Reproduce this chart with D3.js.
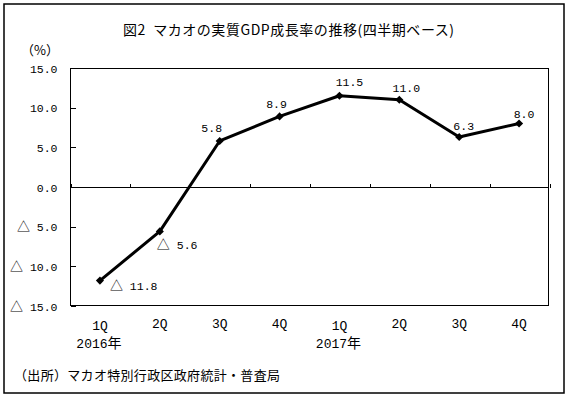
<!DOCTYPE html>
<html><head><meta charset="utf-8">
<script src="https://cdn.jsdelivr.net/npm/d3@7"></script>
<style>
html,body{margin:0;padding:0;background:#fff;}
svg{display:block;}
text{white-space:pre;}
</style></head>
<body>
<svg id="chart" width="568" height="397"></svg>
<script>
// ---- data ----
const quarters = ["1Q","2Q","3Q","4Q","1Q","2Q","3Q","4Q"];
const years = ["2016年","","","","2017年","","",""];
const growth = [-11.8, -5.6, 5.8, 8.9, 11.5, 11.0, 6.3, 8.0];
const yTicks = [15, 10, 5, 0, -5, -10, -15];
const title = "図2  マカオの実質GDP成長率の推移(四半期ベース)";
const unitLabel = "（%）";
const sourceNote = "（出所）マカオ特別行政区政府統計・普査局";

// ---- layout / style ----
const numFont = "'Liberation Mono', 'Noto Sans CJK JP', monospace";
const jpFont = "'Noto Sans CJK JP', sans-serif";
const labelOffsets = [[10,5.5],[-3,13.6],[-8,-13],[-3,-12.4],[10,-14],[7,-12],[4.5,-11],[5,-10]];

const svg = d3.select("#chart");
svg.append("rect").attr("x",0).attr("y",0).attr("width",568).attr("height",397).attr("fill","#fff");
// outer frame
svg.append("rect").attr("x",4).attr("y",4).attr("width",560).attr("height",389)
  .attr("fill","none").attr("stroke","#000").attr("stroke-width",1.5);

const plot = {left:70, right:549, top:68, bottom:306};
const x = d3.scaleBand().domain(d3.range(quarters.length)).range([plot.left, plot.right]);
const y = d3.scaleLinear().domain([-15, 15]).range([plot.bottom, plot.top]);

// title
svg.append("text").attr("x",123).attr("y",35)
  .attr("textLength",331).attr("lengthAdjust","spacing")
  .attr("font-family",jpFont).attr("font-size",14).attr("fill","#000").text(title);
// unit
svg.append("text").attr("x",21).attr("y",55)
  .attr("font-family",jpFont).attr("font-size",13).attr("fill","#000").text(unitLabel);

// plot frame
svg.append("rect").attr("x",plot.left+0.5).attr("y",plot.top+0.5)
  .attr("width",plot.right-plot.left-1).attr("height",plot.bottom-plot.top-1)
  .attr("fill","none").attr("stroke","#000").attr("stroke-width",1).attr("shape-rendering","crispEdges");

// y axis (ticks inside)
const yAxis = d3.axisLeft(y).tickValues(yTicks).tickSize(-5).tickPadding(13)
  .tickFormat(d => d < 0 ? "△ " + Math.abs(d).toFixed(1) : d.toFixed(1));
const gy = svg.append("g").attr("transform",`translate(${plot.left+0.5},0)`).call(yAxis);
gy.select(".domain").remove();
gy.selectAll(".tick line").attr("stroke","#000").attr("shape-rendering","crispEdges");
gy.selectAll(".tick text").each(function(d){
  const t = d3.select(this);
  t.text(null).attr("font-family",numFont).attr("font-size",11.5).attr("fill","#000").attr("dy","0.36em");
  if (d < 0) {
    t.append("tspan").attr("font-family",jpFont).attr("font-size",13).text("△");
    t.append("tspan").text(" " + Math.abs(d).toFixed(1));
  } else {
    t.text(d.toFixed(1));
  }
});

// zero axis with category-boundary ticks pointing up
const xBound = d3.scaleLinear().domain([0, quarters.length]).range([plot.left, plot.right]);
const xAxis = d3.axisTop(xBound).ticks(quarters.length).tickSize(4).tickFormat("");
const gx = svg.append("g").attr("transform",`translate(0,${Math.round(y(0))+0.5})`).call(xAxis);
gx.select(".domain").attr("d",`M${plot.left},0H${plot.right}`).attr("stroke","#000").attr("shape-rendering","crispEdges");
gx.selectAll(".tick line").attr("stroke","#000").attr("shape-rendering","crispEdges")
  .attr("transform","translate(0.5,0)");

// category labels
const cx = i => x(i) + x.bandwidth()/2;
svg.append("g").selectAll("text").data(quarters).join("text")
  .attr("x",(d,i)=>cx(i)).attr("y",(d,i)=> years[i] ? 330 : 328)
  .attr("text-anchor","middle").attr("font-family",numFont).attr("font-size",13).attr("fill","#000")
  .text(d=>d);
svg.append("g").selectAll("text").data(years).join("text")
  .attr("x",(d,i)=>cx(i)-1).attr("y",348)
  .attr("text-anchor","middle").attr("font-family",numFont).attr("font-size",13).attr("fill","#000")
  .each(function(d){
    if(!d) return;
    const t = d3.select(this);
    t.append("tspan").text(d.replace("年",""));
    t.append("tspan").attr("font-family",jpFont).attr("font-size",14).text("年");
  });

// line
const line = d3.line().x((d,i)=>cx(i)).y(d=>y(d));
svg.append("path").datum(growth).attr("d",line).attr("fill","none")
  .attr("stroke","#000").attr("stroke-width",3).attr("stroke-linejoin","round");
// markers
svg.append("g").selectAll("path").data(growth).join("path")
  .attr("d",d3.symbol(d3.symbolDiamond2, 42))
  .attr("transform",(d,i)=>`translate(${cx(i)},${y(d)})`).attr("fill","#000");

// data labels
svg.append("g").selectAll("text").data(growth).join("text")
  .attr("x",(d,i)=>cx(i)+labelOffsets[i][0]).attr("y",(d,i)=>y(d)+labelOffsets[i][1])
  .attr("dy","0.36em").attr("text-anchor",d=> d<0 ? "start" : "middle")
  .attr("font-family",numFont).attr("font-size",11.5).attr("fill","#000")
  .each(function(d){
    const t = d3.select(this);
    if (d < 0) {
      t.append("tspan").attr("font-family",jpFont).attr("font-size",13).text("△");
      t.append("tspan").text(" " + Math.abs(d).toFixed(1));
    } else t.text(d.toFixed(1));
  });

// source
svg.append("text").attr("x",14).attr("y",380)
  .attr("textLength",266).attr("lengthAdjust","spacing")
  .attr("font-family",jpFont).attr("font-size",13).attr("fill","#000").text(sourceNote);
</script>
</body></html>
